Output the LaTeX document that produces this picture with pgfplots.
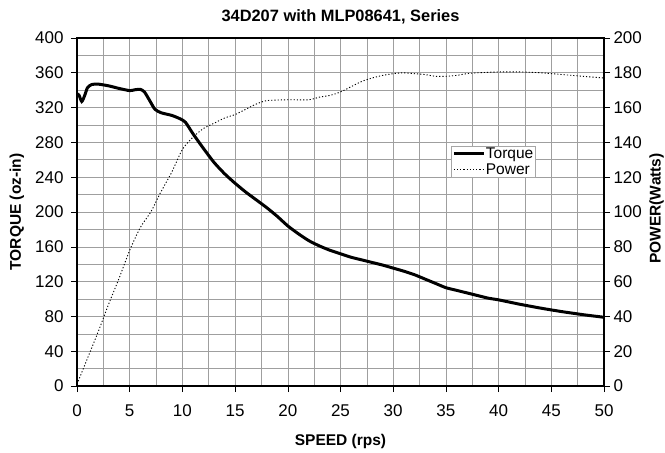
\documentclass[border=0pt]{standalone}
\usepackage{fontspec}
\setmainfont{Liberation Sans}
\usepackage{pgfplots}
\pgfplotsset{compat=1.18}
\begin{document}
\begin{tikzpicture}
\begin{axis}[
  scale only axis, width=527pt, height=348pt,
  xmin=0, xmax=50, ymin=0, ymax=400,
  xtick={0,5,...,50}, minor xtick={2.5,7.5,...,47.5},
  ytick={0,40,...,400}, minor ytick={20,60,...,380},
  xtick pos=left, ytick pos=left,
  tick align=outside, major tick length=6pt, minor tick length=0pt,
  grid=both,
  major grid style={gray!75, line width=0.6pt},
  minor grid style={gray!75, line width=0.6pt},
  axis line style={line width=1.1pt},
  tick style={black, line width=0.6pt},
  /pgf/number format/assume math mode=true,
  tick label style={font=\fontsize{17}{20}\selectfont},
  xticklabel style={yshift=-9pt},
  yticklabel style={xshift=-4pt},
  title={34D207 with MLP08641, Series},
  title style={font=\fontsize{16.4}{19}\bfseries, at={(rel axis cs:0.5,1)}, anchor=base, yshift=10pt},
  xlabel={SPEED (rps)},
  xlabel style={font=\fontsize{15.5}{18}\bfseries, at={(rel axis cs:0.5,0)}, anchor=base, yshift=-59pt},
  ylabel={TORQUE (oz-in)},
  ylabel style={font=\fontsize{15.5}{18}\bfseries, at={(rel axis cs:-0.114,0.5)}, anchor=center, rotate=0},
]
\coordinate (ll) at (rel axis cs:0,0);
\coordinate (ur) at (rel axis cs:1,1);
\addplot[black, line width=3pt, smooth, tension=0.4] coordinates {
(0,336) (0.2,334) (0.45,327) (0.7,333) (1.0,343) (1.4,346.5) (2,347) (3,345)
(4,342) (5,339.5) (5.5,340.5) (6,341) (6.4,338) (6.9,328) (7.4,318) (8,314)
(9,311) (9.8,307) (10.3,303) (11,290) (12,273) (13,257) (14,244) (15,233)
(16,223) (17,214) (18,205) (19,195) (20,184) (21,175) (22,167) (23,161)
(24,156) (25,152) (26,148) (27,145) (28,142) (29,139) (30,135.5) (31,132)
(32,128) (33,123) (34,118) (35,113) (36,110) (37,107) (38,104) (39,101)
(40,99) (42,94) (44,89.5) (46,85.5) (48,82) (50,79)
};
\end{axis}
\begin{axis}[
  scale only axis, width=527pt, height=348pt,
  xmin=0, xmax=50, ymin=0, ymax=200,
  axis x line=none, axis y line*=right,
  ytick={0,20,...,200},
  tick align=outside, major tick length=6pt,
  axis line style={line width=1.1pt},
  tick style={black, line width=0.6pt},
  /pgf/number format/assume math mode=true,
  tick label style={font=\fontsize{17}{20}\selectfont},
  ylabel={POWER(Watts)},
  ylabel style={font=\fontsize{15.5}{18}\bfseries, at={(rel axis cs:1.1,0.51)}, anchor=center, rotate=0},
  legend style={at={(rel axis cs:0.71,0.69)}, anchor=north west, draw=gray!70,
    font=\fontsize{15.5}{13}\selectfont, row sep=3pt, inner sep=1pt,
    nodes={inner sep=0.5pt}},
  legend cell align=left,
  legend image code/.code={\draw[#1] (0pt,0pt) -- (30pt,0pt);},
]
\addlegendimage{black, line width=3pt}
\addlegendentry{Torque}
\addplot[black, line width=0.9pt, dash pattern=on 1.2pt off 2pt, smooth, tension=0.4] coordinates {
(0,1) (1,16) (2,31) (3,47) (4,62) (5,78) (6,91) (7,100) (7.5,106) (8,112)
(9,123) (10,136) (11,143) (12,148) (13,151) (14,154) (15,156) (16,159)
(17,162) (18,164) (20,164.5) (22,164.5) (23,166) (24,167) (25,169) (26,172)
(27,175) (28,177) (29,178.5) (30,179.5) (31,180) (32,179.5) (33,179) (34,178)
(35,178) (36,178.5) (37,179.5) (38,180) (40,180.5) (42,180.5) (44,180)
(46,179) (48,178) (50,177)
};
\addlegendentry{Power}
\end{axis}
\pgfresetboundingbox
\path ([shift={(-77pt,-66pt)}]ll) rectangle ([shift={(61pt,38pt)}]ur);
\end{tikzpicture}
\end{document}
